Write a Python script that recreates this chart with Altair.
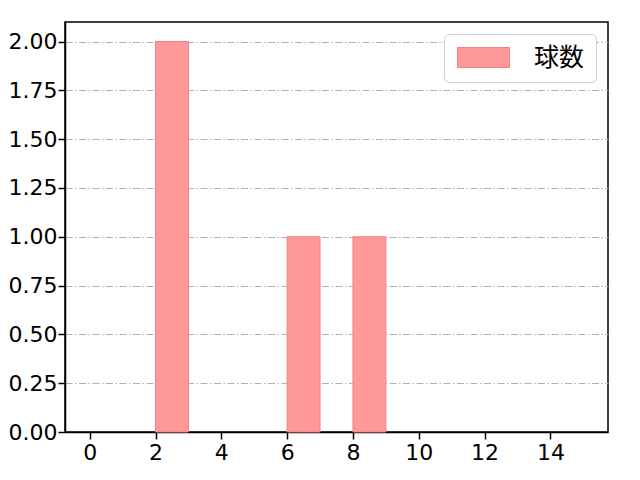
import altair as alt
import pandas as pd

bin_start = [2, 6, 8]
bin_end = [3, 7, 9]
counts = [2, 1, 1]
series = ["球数", "球数", "球数"]
x_ticks = [0, 2, 4, 6, 8, 10, 12, 14]
y_ticks = [0, 0.25, 0.5, 0.75, 1.0, 1.25, 1.5, 1.75, 2.0]

df = pd.DataFrame({"start": bin_start, "end": bin_end, "count": counts, "series": series})

FONT = "DejaVu Sans"
JFONT = "Noto Sans CJK JP"

chart = alt.Chart(df).mark_rect(
    fill="#ff9999", stroke="#f48080", strokeWidth=1
).encode(
    x=alt.X("start:Q", scale=alt.Scale(domain=[-0.75, 15.75], nice=False, zero=False),
            axis=alt.Axis(values=x_ticks, title=None, grid=False, format="d", labelPadding=3)),
    x2="end:Q",
    y=alt.Y("count:Q", scale=alt.Scale(domain=[0, 2.1], nice=False),
            axis=alt.Axis(values=y_ticks, title=None, format=".2f", grid=True,
                          gridColor="#b0b0b0", gridDash=[7, 2.5, 1.5, 2.5], gridWidth=1,
                          labelPadding=1)),
    y2=alt.datum(0),
    color=alt.Color("series:N", scale=alt.Scale(range=["#ff9999"]),
                    legend=alt.Legend(title=None, orient="top-right",
                                      symbolType="M-2.6,-1H2.6V1H-2.6Z", symbolSize=400,
                                      symbolFillColor="#ff9999", symbolStrokeColor="#f48080",
                                      symbolStrokeWidth=1,
                                      labelFontSize=25, labelFont=JFONT, labelColor="black",
                                      strokeColor="#d0d0d0", fillColor="white",
                                      padding=11, cornerRadius=5, offset=12,
                                      labelOffset=38, symbolOffset=16)),
).properties(
    width=543, height=410,
    padding={"top": 14, "left": 0, "right": 5, "bottom": 5},
).configure_axis(
    labelFont=FONT, labelFontSize=22, labelColor="black",
    domainColor="black", domainWidth=1.5, tickColor="black", tickWidth=1.5, tickSize=7,
).configure_view(stroke="black", strokeWidth=1.5)

chart.save("out.html", embed_options={"renderer": "svg", "actions": False})
